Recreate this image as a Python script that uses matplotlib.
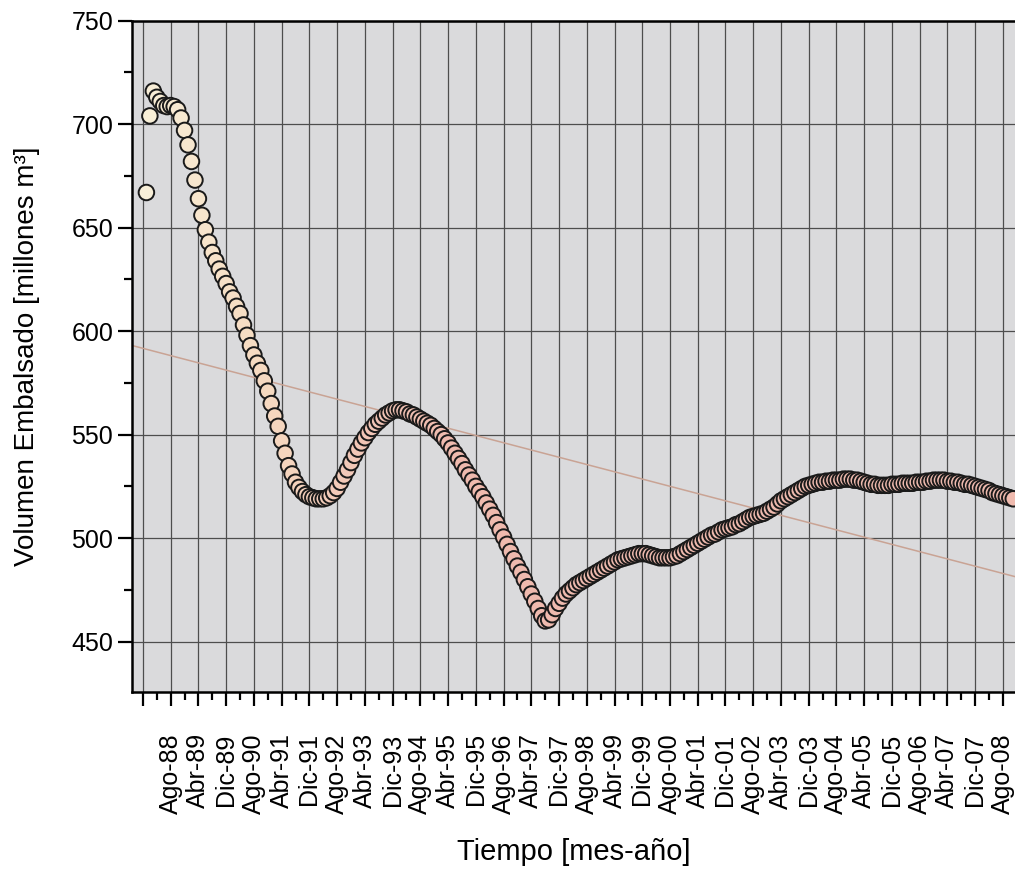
import numpy as np
import matplotlib.pyplot as plt
from matplotlib.colors import LinearSegmentedColormap
from matplotlib.ticker import MultipleLocator, FixedLocator

plt.rcParams['font.family'] = ['Liberation Sans', 'DejaVu Sans']

# volumen embalsado mensual [millones m3], desde Ene-88 (mes 1)
volumen = [
    667, 704, 716, 713, 711, 709, 708.5, 709, 708.5, 707,
    703, 697, 690, 682, 673, 664, 656, 649, 643, 638,
    634, 630, 626.5, 623, 619, 616, 612, 608.5, 603, 598,
    593, 588.5, 584.5, 581, 576, 571, 565, 559, 554, 547,
    541, 535, 531, 527, 524.5, 522.5, 521, 520, 519.5, 519,
    519, 519, 519.5, 520.5, 522, 524, 527, 530, 533, 536.5,
    540, 543, 546, 548.5, 551, 553, 555, 556.5, 558, 559.5,
    560.5, 561.5, 562, 562, 561.5, 561, 560, 559.5, 558.5, 557.5,
    556.5, 555.5, 554.5, 553, 551.5, 550, 548, 546, 543.5, 541,
    538.5, 536, 533, 530.5, 528, 525, 522.5, 520, 517, 514,
    511, 507.5, 504, 500.5, 497, 493.5, 490, 486.5, 483.5, 480,
    476.5, 473, 469.5, 466, 462.5, 460, 460.5, 463, 466, 468.5,
    471, 473, 474.5, 476, 477.5, 478.5, 479.5, 480.5, 481.5, 482.5,
    483.5, 484.5, 485.5, 486.5, 487.5, 488.5, 489.5, 490, 490.5, 491,
    491.5, 492, 492.5, 492.5, 492.5, 492, 491.5, 491, 490.5, 490.5,
    490.5, 490.5, 491, 491.5, 492.5, 493.5, 494.5, 495.5, 496.5, 497.5,
    498.5, 499.5, 500.5, 501.5, 502, 503, 504, 504.5, 505, 505.5,
    506.5, 507, 508, 509, 510, 510.5, 511, 511.5, 512, 513,
    514, 515, 516.5, 518, 519, 520, 521, 522, 523, 524,
    525, 525.5, 526, 526.5, 527, 527, 527.5, 527.5, 528, 528,
    528, 528.5, 528.5, 528.5, 528, 528, 527.5, 527, 526.5, 526,
    526, 525.5, 525.5, 525.5, 525.5, 526, 526, 526, 526.5, 526.5,
    526.5, 526.5, 527, 527, 527, 527.5, 527.5, 528, 528, 528,
    528, 527.5, 527.5, 527, 527, 526.5, 526, 526, 525.5, 525,
    524.5, 524, 523.5, 523, 522, 521.5, 521, 520.5, 520, 519.5, 519,
]
meses = np.arange(1, len(volumen) + 1)

# ticks principales cada 8 meses (mes 0 = Dic-87, sin etiqueta)
tick_meses = list(range(0, 249, 8))
tick_etiquetas = ['', 'Ago-88', 'Abr-89', 'Dic-89', 'Ago-90', 'Abr-91', 'Dic-91',
                  'Ago-92', 'Abr-93', 'Dic-93', 'Ago-94', 'Abr-95', 'Dic-95',
                  'Ago-96', 'Abr-97', 'Dic-97', 'Ago-98', 'Abr-99', 'Dic-99',
                  'Ago-00', 'Abr-01', 'Dic-01', 'Ago-02', 'Abr-03', 'Dic-03',
                  'Ago-04', 'Abr-05', 'Dic-05', 'Ago-06', 'Abr-07', 'Dic-07',
                  'Ago-08']

# recta de tendencia
tendencia_meses = [-3.2, 251.5]
tendencia_vol = [593.1, 481.4]

fig = plt.figure(figsize=(10.15, 8.74), dpi=100)
ax = fig.add_axes([0.130, 0.2086, 0.870, 0.7677])
ax.set_facecolor('#dadadc')
ax.set_axisbelow(True)

ax.plot(tendencia_meses, tendencia_vol, color='#c9a394', lw=1.1, zorder=2)

cmap = LinearSegmentedColormap.from_list('crema_rosa', ['#f8efd8', '#f6dcc2', '#f2c7b7', '#efbaae'])
colores = cmap(np.clip((meses - 1) / 90.0, 0, 1))
ax.scatter(meses, volumen, s=125, c=colores, edgecolors='#1a1a1a', linewidths=1.4, zorder=3)

ax.set_xlim(-3.17, 251.5)
ax.set_ylim(425.8, 750)

ax.xaxis.set_major_locator(FixedLocator(tick_meses))
ax.set_xticklabels(tick_etiquetas, rotation=90, fontsize=18)
ax.xaxis.set_minor_locator(FixedLocator([m + 4 for m in tick_meses]))
ax.yaxis.set_major_locator(MultipleLocator(50))
ax.yaxis.set_minor_locator(MultipleLocator(25))
ax.tick_params(axis='y', labelsize=18)

ax.tick_params(which='major', direction='out', length=10, width=1.6)
ax.tick_params(which='minor', direction='out', length=6, width=1.6)
ax.tick_params(axis='x', which='major', pad=20)
ax.tick_params(top=False, right=False)

ax.grid(True, which='major', color='#4d4d4d', lw=0.9)

for lado in ['left', 'bottom', 'top']:
    ax.spines[lado].set_linewidth(1.8)
ax.spines['right'].set_visible(False)

ax.set_xlabel('Tiempo [mes-año]', fontsize=21)
ax.set_ylabel('Volumen Embalsado [millones m³]', fontsize=20)
ax.xaxis.set_label_coords(0.5, -0.218)
ax.yaxis.set_label_coords(-0.104, 0.5)

fig.savefig('out.png', dpi=100)
